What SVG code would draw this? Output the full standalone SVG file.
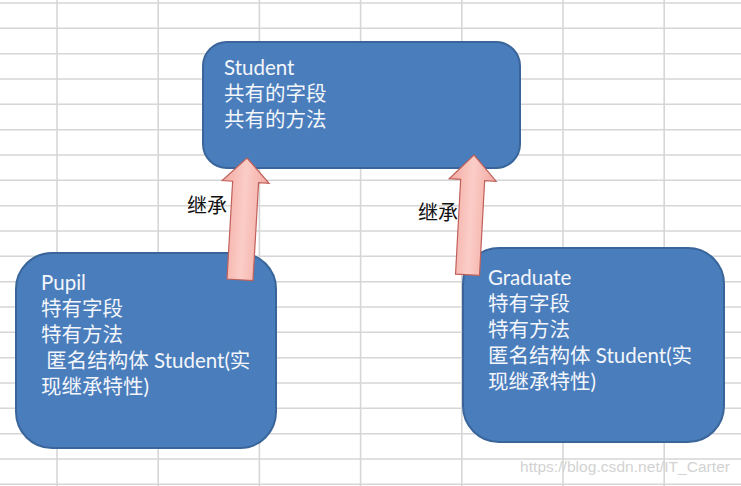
<svg xmlns="http://www.w3.org/2000/svg" width="741" height="486" viewBox="0 0 741 486">
<defs>
<style>
.grid line{stroke:#d6d6d6;stroke-width:1.6}
.box{fill:#4a7dbb;stroke:#3a659a;stroke-width:2}
.t{font-family:Lato,"Noto Sans CJK SC",sans-serif;font-size:20.5px;fill:#f3f6fb;white-space:pre}
.lbl{font-family:"Noto Sans CJK SC",sans-serif;font-size:20px;font-weight:400;fill:#111}
.arr{fill:url(#pink);stroke:#c0605a;stroke-width:1.2}
.wm{font-family:"Liberation Sans",Arial,sans-serif;font-size:15.5px;fill:#d2d2d2}
</style>
<linearGradient id="pink" x1="0" y1="0" x2="1" y2="0">
<stop offset="0" stop-color="#f2a9a1"/>
<stop offset="0.5" stop-color="#fbcdc7"/>
<stop offset="1" stop-color="#f2a9a1"/>
</linearGradient>
</defs>
<rect width="741" height="486" fill="#ffffff"/>
<g class="grid">
<line x1="0" y1="3" x2="741" y2="3"/>
<line x1="0" y1="28.3" x2="741" y2="28.3"/>
<line x1="0" y1="53.7" x2="741" y2="53.7"/>
<line x1="0" y1="79" x2="741" y2="79"/>
<line x1="0" y1="104.3" x2="741" y2="104.3"/>
<line x1="0" y1="129.7" x2="741" y2="129.7"/>
<line x1="0" y1="155" x2="741" y2="155"/>
<line x1="0" y1="180.3" x2="741" y2="180.3"/>
<line x1="0" y1="205.7" x2="741" y2="205.7"/>
<line x1="0" y1="231" x2="741" y2="231"/>
<line x1="0" y1="256.3" x2="741" y2="256.3"/>
<line x1="0" y1="281.7" x2="741" y2="281.7"/>
<line x1="0" y1="307" x2="741" y2="307"/>
<line x1="0" y1="332.3" x2="741" y2="332.3"/>
<line x1="0" y1="357.7" x2="741" y2="357.7"/>
<line x1="0" y1="383" x2="741" y2="383"/>
<line x1="0" y1="408.3" x2="741" y2="408.3"/>
<line x1="0" y1="433.7" x2="741" y2="433.7"/>
<line x1="0" y1="459" x2="741" y2="459"/>
<line x1="0" y1="484.3" x2="741" y2="484.3"/>
<line x1="57" y1="0" x2="57" y2="486"/>
<line x1="158.2" y1="0" x2="158.2" y2="486"/>
<line x1="259.4" y1="0" x2="259.4" y2="486"/>
<line x1="360.6" y1="0" x2="360.6" y2="486"/>
<line x1="461.8" y1="0" x2="461.8" y2="486"/>
<line x1="563" y1="0" x2="563" y2="486"/>
<line x1="664.2" y1="0" x2="664.2" y2="486"/>
</g>
<g id="student">
<rect class="box" x="203" y="42" width="317" height="126" rx="24"/>
<text class="t" x="224" y="75">Student</text>
<text class="t" x="224" y="101">共有的字段</text>
<text class="t" x="224" y="127">共有的方法</text>
</g>
<g id="pupil">
<rect class="box" x="16" y="253" width="260" height="195" rx="36"/>
<text class="t" x="41" y="290">Pupil</text>
<text class="t" x="41" y="316">特有字段</text>
<text class="t" x="41" y="342">特有方法</text>
<text class="t" x="41" y="368"> 匿名结构体 Student(实</text>
<text class="t" x="41" y="394">现继承特性)</text>
</g>
<g id="graduate">
<rect class="box" x="463" y="248" width="261" height="194" rx="36"/>
<text class="t" x="488" y="285">Graduate</text>
<text class="t" x="488" y="311">特有字段</text>
<text class="t" x="488" y="337">特有方法</text>
<text class="t" x="488" y="363">匿名结构体 Student(实</text>
<text class="t" x="488" y="389">现继承特性)</text>
</g>
<g id="connectors">
<text class="lbl" x="187" y="213">继承</text>
<text class="lbl" x="418" y="220">继承</text>
<polygon class="arr" transform="translate(247,158) rotate(3.3)" points="0,0 23.5,24 13,24 13,122 -13,122 -13,24 -23.5,24"/>
<polygon class="arr" transform="translate(474,155) rotate(3.1)" points="0,0 23.5,25 12,25 12,120 -12,120 -12,25 -23.5,25"/>
</g>
<text class="wm" x="520" y="472" textLength="210">https://blog.csdn.net/IT_Carter</text>
</svg>
